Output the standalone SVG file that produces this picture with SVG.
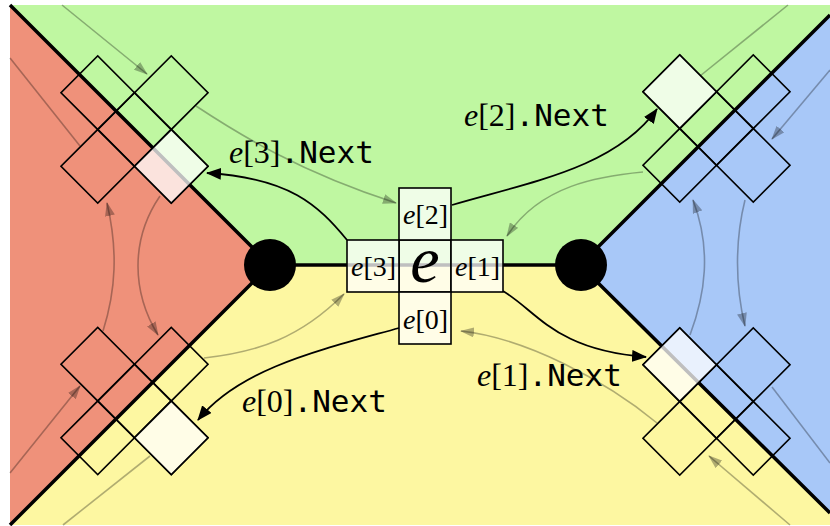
<svg xmlns="http://www.w3.org/2000/svg" width="830" height="526" viewBox="0 0 830 526">
<defs>
<style>
.bnd{fill:none;stroke:#000;stroke-width:3.5;stroke-linejoin:miter}
.cell{fill:none;stroke:#000;stroke-width:1.6}
.hi{fill:#fff;fill-opacity:0.75;stroke:#000;stroke-width:1.6}
.nx{fill:none;stroke:#000;stroke-width:1.8}
.gr{fill:none;stroke:#000;stroke-opacity:0.3;stroke-width:1.6}
.lab{font-size:32px;fill:#000}
.it{font-family:"Liberation Serif",serif;font-style:italic}
.rm{font-family:"Liberation Serif",serif}
.mono{font-family:"DejaVu Sans Mono",monospace;font-size:31px}
.cl{font-family:"Liberation Serif",serif;font-size:28px;text-anchor:middle}
</style>
<marker id="ah" markerUnits="userSpaceOnUse" markerWidth="16" markerHeight="12" refX="14" refY="6" orient="auto">
<path d="M0,0 L15,6 L0,12 z" fill="#000"/>
</marker>
<marker id="gh" markerUnits="userSpaceOnUse" markerWidth="15" markerHeight="10" refX="13" refY="5" orient="auto">
<path d="M0,0 L14,5 L0,10 z" fill="#000" fill-opacity="0.3"/>
</marker>
<g id="xcross">
<rect class="cell" x="-26" y="-26" width="52" height="52"/>
<rect class="cell" x="26" y="-26" width="52" height="52"/>
<rect class="cell" x="-78" y="-26" width="52" height="52"/>
<rect class="cell" x="-26" y="26" width="52" height="52"/>
<rect class="cell" x="-26" y="-78" width="52" height="52"/>
</g>
</defs>

<g id="regions">
<polygon points="10,5 270,265 10,525" fill="#ef917a"/>
<polygon points="10,5 830,5 830,15 580,265 270,265" fill="#bff7a1"/>
<polygon points="830,15 580,265 830,513" fill="#a8c8f8"/>
<polygon points="270,265 580,265 830,513 830,525 10,525" fill="#fdf7a1"/>
</g>

<g id="boundaries">
<polyline class="bnd" points="10,5 270,265 10,525"/>
<polyline class="bnd" points="830,15 580,265 830,513"/>
<line class="bnd" x1="270" y1="265" x2="580" y2="265" stroke-width="3"/>
</g>

<g id="connectors">
<g id="rings">
<path class="gr" d="M62,5 L147,74" marker-end="url(#gh)"/>
<path class="gr" d="M196,106 C240,135 300,172 396,203" marker-end="url(#gh)"/>
<path class="gr" d="M700,76 L788,5"/>
<path class="gr" d="M643,172 C600,176 540,185 507,236" marker-end="url(#gh)"/>
<path class="gr" d="M10,58 L80,146"/>
<path class="gr" d="M103,331 C116,290 118,250 107,203" marker-end="url(#gh)"/>
<path class="gr" d="M160,196 C130,240 132,292 158,335" marker-end="url(#gh)"/>
<path class="gr" d="M10,473 L80,386" marker-end="url(#gh)"/>
<path class="gr" d="M204,358 C258,352 300,338 344,294" marker-end="url(#gh)"/>
<path class="gr" d="M63,525 L150,456"/>
<path class="gr" d="M790,525 L709,456" marker-end="url(#gh)"/>
<path class="gr" d="M657,423 C605,380 525,338 461,331" marker-end="url(#gh)"/>
<path class="gr" d="M830,70 L772,139" marker-end="url(#gh)"/>
<path class="gr" d="M745,200 C735,240 735,285 745,326" marker-end="url(#gh)"/>
<path class="gr" d="M690,335 C705,295 712,250 693,200" marker-end="url(#gh)"/>
<path class="gr" d="M772,387 L830,463"/>
</g>
</g>

<g id="cross-tl" transform="translate(134.5,129.5) rotate(45)">
<use href="#xcross"/>
<rect class="hi" x="26" y="-26" width="52" height="52"/>
</g>
<g id="cross-tr" transform="translate(716.5,128.5) rotate(45)">
<use href="#xcross"/>
<rect class="hi" x="-78" y="-26" width="52" height="52"/>
</g>
<g id="cross-bl" transform="translate(134.5,401) rotate(45)">
<use href="#xcross"/>
<rect class="hi" x="26" y="-26" width="52" height="52"/>
</g>
<g id="cross-br" transform="translate(716.5,401.5) rotate(45)">
<use href="#xcross"/>
<rect class="hi" x="-78" y="-26" width="52" height="52"/>
</g>

<g id="edge-e">
<rect class="hi" x="399" y="240" width="52" height="52"/>
<text x="425" y="282" font-size="66" class="it" text-anchor="middle">e</text>
</g>
<g id="e2">
<rect class="hi" x="399" y="188" width="52" height="52"/>
<text class="cl" x="425.5" y="224"><tspan class="it">e</tspan>[2]</text>
</g>
<g id="e3">
<rect class="hi" x="347" y="240" width="52" height="52"/>
<text class="cl" x="373.5" y="276"><tspan class="it">e</tspan>[3]</text>
</g>
<g id="e1">
<rect class="hi" x="451" y="240" width="52" height="52"/>
<text class="cl" x="477.5" y="276"><tspan class="it">e</tspan>[1]</text>
</g>
<g id="e0">
<rect class="hi" x="399" y="292" width="52" height="52"/>
<text class="cl" x="425.5" y="329"><tspan class="it">e</tspan>[0]</text>
</g>

<g id="next-arrows">
<path class="nx" d="M347,240 C318,205 290,178 207,173" marker-end="url(#ah)"/>
<path class="nx" d="M452,205 C530,182 615,168 657,109" marker-end="url(#ah)"/>
<path class="nx" d="M503,291 C538,312 555,350 646,357" marker-end="url(#ah)"/>
<path class="nx" d="M399,328 C320,350 240,368 198,420" marker-end="url(#ah)"/>
</g>

<g id="vertices">
<circle cx="270" cy="265" r="26" fill="#000"/>
<circle cx="581" cy="265" r="26" fill="#000"/>
</g>

<g id="labels">
<text class="lab" x="229" y="163"><tspan class="it">e</tspan><tspan class="rm">[3]</tspan><tspan class="mono">.Next</tspan></text>
<text class="lab" x="464" y="126"><tspan class="it">e</tspan><tspan class="rm">[2]</tspan><tspan class="mono">.Next</tspan></text>
<text class="lab" x="477" y="386"><tspan class="it">e</tspan><tspan class="rm">[1]</tspan><tspan class="mono">.Next</tspan></text>
<text class="lab" x="242" y="412"><tspan class="it">e</tspan><tspan class="rm">[0]</tspan><tspan class="mono">.Next</tspan></text>
</g>
</svg>
